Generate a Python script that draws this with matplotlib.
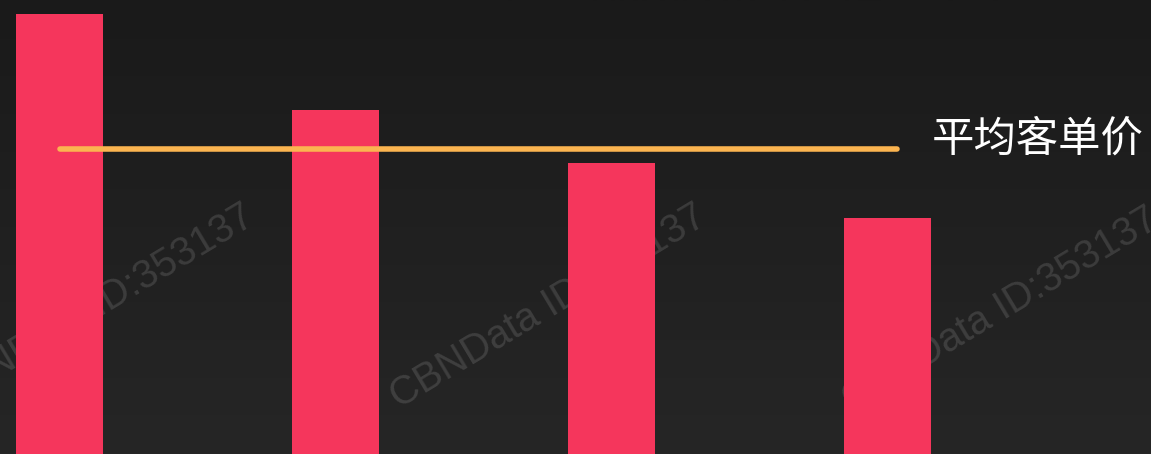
import numpy as np
import matplotlib
matplotlib.use("Agg")
import matplotlib.pyplot as plt

plt.rcParams['font.family'] = ['Noto Sans CJK SC', 'DejaVu Sans']

# data
categories = ["A", "B", "C", "D"]
values = [440, 344, 291, 236]
average = 305
avg_label = "平均客单价"
watermark = "CBNData ID:353137"

W, H = 1151, 454
fig = plt.figure(figsize=(W / 100, H / 100), dpi=100)

# background gradient
bg = fig.add_axes([0, 0, 1, 1])
grad = np.linspace(0, 1, 256).reshape(-1, 1)
top = np.array([0x1a, 0x1a, 0x1a]) / 255
bot = np.array([0x26, 0x26, 0x26]) / 255
img = top + (bot - top) * grad[..., None]
bg.imshow(img, aspect='auto', extent=[0, 1, 0, 1])
bg.set_axis_off()

ax = fig.add_axes([0, 0, 1, 1])
ax.patch.set_alpha(0)
ax.set_axis_off()

# watermarks (behind bars)
for cx, cy in [(96, 307), (548, 307), (1000, 310)]:
    ax.text(cx / W, 1 - cy / H, watermark, transform=ax.transAxes,
            fontsize=28.5, color='white', alpha=0.13, rotation=31,
            ha='center', va='center', family=['Liberation Sans', 'DejaVu Sans'],
            zorder=1)

x = np.arange(len(categories))
spacing = 276.0
ax.bar(x, values, width=87 / spacing, color='#F5365C', zorder=2)
ax.set_xlim(-59.5 / spacing, (W - 59.5) / spacing)
ax.set_ylim(0, H)

ax.plot([x[0], x[-1] + 0.035], [average, average], color='#FBB450', lw=4,
        solid_capstyle='round', zorder=3)
ax.text(932 / W, 1 - 140 / H, avg_label, transform=ax.transAxes,
        fontsize=30.5, color='white', ha='left', va='center', zorder=4)

fig.savefig("out.png", dpi=100, facecolor='#1a1a1a')
